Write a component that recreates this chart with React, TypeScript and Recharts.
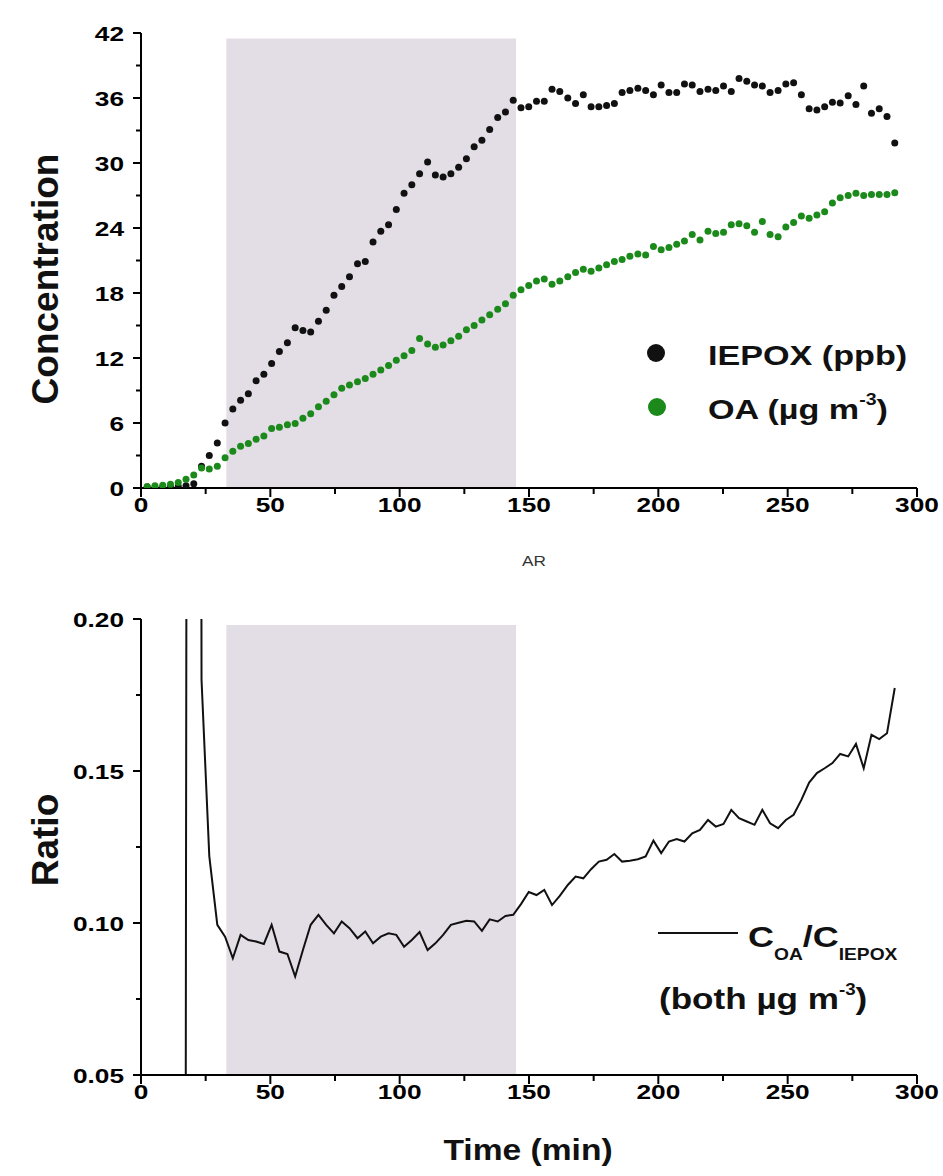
import React from 'react';
import { ComposedChart, Scatter, Line, XAxis, YAxis, ReferenceArea, Legend } from 'recharts';

// ---- data ----
const TIME = [
  2.4, 5.4, 8.4, 11.4, 14.4, 17.4, 20.4, 23.4, 26.4, 29.5,
  32.5, 35.5, 38.5, 41.5, 44.5, 47.5, 50.5, 53.5, 56.6, 59.6,
  62.6, 65.6, 68.6, 71.6, 74.6, 77.6, 80.6, 83.7, 86.7, 89.7,
  92.7, 95.7, 98.7, 101.7, 104.7, 107.7, 110.8, 113.8, 116.8, 119.8,
  122.8, 125.8, 128.8, 131.8, 134.8, 137.9, 140.9, 143.9, 146.9, 149.9,
  152.9, 155.9, 158.9, 161.9, 165.0, 168.0, 171.0, 174.0, 177.0, 180.0,
  183.0, 186.0, 189.0, 192.1, 195.1, 198.1, 201.1, 204.1, 207.1, 210.1,
  213.1, 216.1, 219.2, 222.2, 225.2, 228.2, 231.2, 234.2, 237.2, 240.2,
  243.2, 246.3, 249.3, 252.3, 255.3, 258.3, 261.3, 264.3, 267.3, 270.3,
  273.4, 276.4, 279.4, 282.4, 285.4, 288.4, 291.4,
];

const IEPOX_PPB = [
  0.1, 0.05, 0.1, 0.1, 0.15, 0.2, 0.4, 2.0, 3.0, 4.15,
  6.0, 7.3, 8.1, 8.7, 9.9, 10.5, 11.5, 12.6, 13.4, 14.8,
  14.55, 14.4, 15.4, 16.4, 17.8, 18.6, 19.5, 20.7, 20.9, 22.7,
  23.7, 24.3, 25.7, 27.2, 28.0, 29.0, 30.1, 28.9, 28.7, 29.0,
  29.6, 30.4, 31.5, 32.1, 33.1, 34.2, 34.7, 35.8, 35.1, 35.2,
  35.7, 35.7, 36.8, 36.6, 36.0, 35.5, 36.3, 35.2, 35.2, 35.3,
  35.5, 36.5, 36.7, 36.9, 36.7, 36.3, 37.2, 36.5, 36.5, 37.3,
  37.2, 36.6, 36.8, 36.7, 37.1, 36.6, 37.8, 37.55, 37.2, 37.1,
  36.5, 36.7, 37.3, 37.4, 36.3, 35.0, 34.9, 35.2, 35.6, 35.55,
  36.2, 35.4, 37.1, 34.6, 35.0, 34.3, 31.85,
];

const OA_UG = [
  0.15, 0.2, 0.25, 0.35, 0.5, 0.8, 1.2, 1.85, 1.75, 2.0,
  2.8, 3.4, 3.85, 4.1, 4.5, 4.8, 5.5, 5.6, 5.85, 5.95,
  6.45, 6.85, 7.5, 8.0, 8.6, 9.2, 9.5, 9.8, 10.1, 10.5,
  10.9, 11.3, 11.8, 12.2, 12.7, 13.8, 13.3, 13.0, 13.2, 13.6,
  14.0, 14.6, 15.0, 15.5, 16.0, 16.5, 17.0, 17.8, 18.3, 18.7,
  19.1, 19.3, 18.8, 19.1, 19.5, 19.9, 20.2, 20.0, 20.3, 20.6,
  20.9, 21.1, 21.4, 21.6, 21.5, 22.3, 22.0, 22.2, 22.5, 22.8,
  23.4, 22.9, 23.7, 23.5, 23.6, 24.3, 24.4, 24.2, 23.6, 24.6,
  23.4, 23.2, 24.1, 24.5, 25.1, 24.9, 25.2, 25.5, 26.3, 26.8,
  27.0, 27.2, 27.0, 27.1, 27.1, 27.1, 27.25,
];

// ratio C_OA / C_IEPOX ; values at index 4 and 6 run off the plotted range
const RATIO = [
  null, null, null, null, -2.0, 0.114, 2.0, 0.18, 0.122, 0.0994,
  0.0955, 0.0884, 0.0961, 0.0944, 0.0939, 0.0931, 0.0994, 0.0906, 0.0898, 0.0824,
  0.0911, 0.0994, 0.1027, 0.0994, 0.0966, 0.1005, 0.0983, 0.095, 0.0972, 0.0933,
  0.0955, 0.0966, 0.0961, 0.0922, 0.0944, 0.097, 0.0911, 0.0933, 0.0961, 0.0994,
  0.1001, 0.1007, 0.1005, 0.0974, 0.1012, 0.1005, 0.1023, 0.1027, 0.1062, 0.1102,
  0.1092, 0.1109, 0.1059, 0.1089, 0.1125, 0.1153, 0.1147, 0.1177, 0.1202, 0.1208,
  0.1227, 0.1202, 0.1205, 0.121, 0.1219, 0.1271, 0.123, 0.1268, 0.1276, 0.1268,
  0.1295, 0.1306, 0.1339, 0.1317, 0.1326, 0.1372, 0.1345, 0.1334, 0.1323, 0.1372,
  0.1328, 0.1312, 0.1339, 0.1356, 0.1405, 0.1462, 0.1493, 0.1509, 0.1526, 0.1556,
  0.1548, 0.1589, 0.1509, 0.1619, 0.1605, 0.1624, 0.1773,
];

const X_TICKS = [0, 25, 50, 75, 100, 125, 150, 175, 200, 225, 250, 275, 300];
const CONC_TICKS = [0, 3, 6, 9, 12, 15, 18, 21, 24, 27, 30, 33, 36, 39, 42];
const RATIO_TICKS = [0.05, 0.075, 0.1, 0.125, 0.15, 0.175, 0.2];
const SHADE_X = [33, 145];
const SHADE_TOP_CONC = 41.5;
const SHADE_TOP_RATIO = 0.198;

const iepoxPts = TIME.map((t, i) => ({ t, v: IEPOX_PPB[i] }));
const oaPts = TIME.map((t, i) => ({ t, v: OA_UG[i] }));
const ratioPts = TIME.map((t, i) => ({ t, r: RATIO[i] }));

const FONT = '"Liberation Sans", Arial, Helvetica, sans-serif';
const SHADE = '#e3dde5';
const GREEN = '#1b8a1b';
const BLACK = '#111111';

const XTick = (props: any) => {
  const { x, y, payload } = props;
  const v = payload.value;
  const major = v % 50 === 0;
  return (
    <g>
      <line x1={x} y1={y} x2={x} y2={y + (major ? 9 : 6)} stroke="#000" strokeWidth={2} />
      {major && (
        <text transform={`translate(${x},${y + 24}) scale(1.25,1)`} textAnchor="middle"
          fontFamily={FONT} fontWeight="bold" fontSize={21} fill="#000">{v}</text>
      )}
    </g>
  );
};

const ConcTick = (props: any) => {
  const { x, y, payload } = props;
  const v = payload.value;
  const major = v % 6 === 0;
  return (
    <g>
      <line x1={x} y1={y} x2={x - (major ? 8 : 5)} y2={y} stroke="#000" strokeWidth={2} />
      {major && (
        <text transform={`translate(${x - 17},${y + 7.5}) scale(1.25,1)`} textAnchor="end"
          fontFamily={FONT} fontWeight="bold" fontSize={21} fill="#000">{v}</text>
      )}
    </g>
  );
};

const RatioTick = (props: any) => {
  const { x, y, payload } = props;
  const v = payload.value;
  const major = Math.round(v * 1000) % 50 === 0;
  return (
    <g>
      <line x1={x} y1={y} x2={x - (major ? 8 : 5)} y2={y} stroke="#000" strokeWidth={2} />
      {major && (
        <text transform={`translate(${x - 17},${y + 7.5}) scale(1.25,1)`} textAnchor="end"
          fontFamily={FONT} fontWeight="bold" fontSize={21} fill="#000">{v.toFixed(2)}</text>
      )}
    </g>
  );
};

const dot = (color: string) => (p: any) => <circle cx={p.cx} cy={p.cy} r={3.5} fill={color} />;

const TopLegend = () => (
  <svg width={300} height={120} style={{ overflow: 'visible' }}>
    <circle cx={26} cy={33} r={9} fill={BLACK} />
    <text transform="translate(78,45) scale(1.22,1)" fontFamily={FONT} fontWeight="bold" fontSize={28} fill="#111">IEPOX (ppb)</text>
    <circle cx={27} cy={87} r={9} fill={GREEN} />
    <text transform="translate(78,99) scale(1.22,1)" fontFamily={FONT} fontWeight="bold" fontSize={28} fill="#111">
      OA (µg m<tspan fontSize={16} dy={-14}>-3</tspan><tspan dy={14}>)</tspan>
    </text>
  </svg>
);

const BottomLegend = () => (
  <svg width={300} height={150} style={{ overflow: 'visible' }}>
    <line x1={18} y1={53} x2={98} y2={53} stroke={BLACK} strokeWidth={2} />
    <text transform="translate(108,67) scale(1.2,1)" fontFamily={FONT} fontWeight="bold" fontSize={30} fill="#111">
      C<tspan fontSize={16} dy={13}>OA</tspan><tspan dy={-13}>/C</tspan><tspan fontSize={16} dy={13}>IEPOX</tspan>
    </text>
    <text transform="translate(19,129) scale(1.17,1)" fontFamily={FONT} fontWeight="bold" fontSize={30} fill="#111">
      (both µg m<tspan fontSize={16} dy={-14}>-3</tspan><tspan dy={14}>)</tspan>
    </text>
  </svg>
);

export default function App() {
  return (
    <div style={{ position: 'absolute', left: 0, top: 0, width: 943, height: 1176, background: '#fff', overflow: 'hidden' }}>
      <div style={{ position: 'absolute', left: 0, top: 0 }}>
        <ComposedChart width={943} height={600} margin={{ top: 33, right: 26, bottom: 72, left: 0 }}>
          <ReferenceArea x1={SHADE_X[0]} x2={SHADE_X[1]} y1={0} y2={SHADE_TOP_CONC} fill={SHADE} fillOpacity={1} stroke="none" />
          <XAxis type="number" dataKey="t" domain={[0, 300]} ticks={X_TICKS} interval={0}
            tickSize={0} tickMargin={0} tickLine={false} tick={XTick} height={40}
            axisLine={{ stroke: '#000', strokeWidth: 2 }}
            label={() => (
              <text transform="translate(534,566) scale(1.15,1)" textAnchor="middle" fontFamily={FONT} fontSize={15} fill="#333">AR</text>
            )} />
          <YAxis type="number" dataKey="v" domain={[0, 42]} ticks={CONC_TICKS} interval={0}
            tickSize={0} tickMargin={0} tickLine={false} tick={ConcTick} width={141}
            axisLine={{ stroke: '#000', strokeWidth: 2 }} allowDataOverflow
            label={() => (
              <text transform="translate(58,279) rotate(-90)" textAnchor="middle" fontFamily={FONT}
                fontWeight="bold" fontSize={37} fill="#111">Concentration</text>
            )} />
          <Scatter name="IEPOX (ppb)" data={iepoxPts} fill={BLACK} shape={dot(BLACK)} isAnimationActive={false} />
          <Scatter name="OA" data={oaPts} fill={GREEN} shape={dot(GREEN)} isAnimationActive={false} />
          <Legend content={TopLegend} layout="horizontal" verticalAlign="middle" align="center"
            wrapperStyle={{ position: 'absolute', left: 630, top: 320, width: 300, height: 120 }} />
        </ComposedChart>
      </div>
      <div style={{ position: 'absolute', left: 0, top: 560 }}>
        <ComposedChart width={943} height={616} data={ratioPts} margin={{ top: 59, right: 26, bottom: 61, left: 0 }}>
          <ReferenceArea x1={SHADE_X[0]} x2={SHADE_X[1]} y1={0.05} y2={SHADE_TOP_RATIO} fill={SHADE} fillOpacity={1} stroke="none" />
          <XAxis type="number" dataKey="t" domain={[0, 300]} ticks={X_TICKS} interval={0}
            tickSize={0} tickMargin={0} tickLine={false} tick={XTick} height={40}
            axisLine={{ stroke: '#000', strokeWidth: 2 }}
            label={() => (
              <text transform="translate(528,600) scale(1.12,1)" textAnchor="middle" fontFamily={FONT}
                fontWeight="bold" fontSize={30} fill="#111">Time (min)</text>
            )} />
          <YAxis type="number" domain={[0.05, 0.2]} ticks={RATIO_TICKS} interval={0}
            tickSize={0} tickMargin={0} tickLine={false} tick={RatioTick} width={141}
            axisLine={{ stroke: '#000', strokeWidth: 2 }} allowDataOverflow
            label={() => (
              <text transform="translate(58,280) rotate(-90)" textAnchor="middle" fontFamily={FONT}
                fontWeight="bold" fontSize={37} fill="#111">Ratio</text>
            )} />
          <Line type="linear" dataKey="r" stroke={BLACK} strokeWidth={2} dot={false} activeDot={false}
            connectNulls={false} isAnimationActive={false} />
          <Legend content={BottomLegend} layout="horizontal" verticalAlign="middle" align="center"
            wrapperStyle={{ position: 'absolute', left: 640, top: 320, width: 300, height: 150 }} />
        </ComposedChart>
      </div>
    </div>
  );
}
